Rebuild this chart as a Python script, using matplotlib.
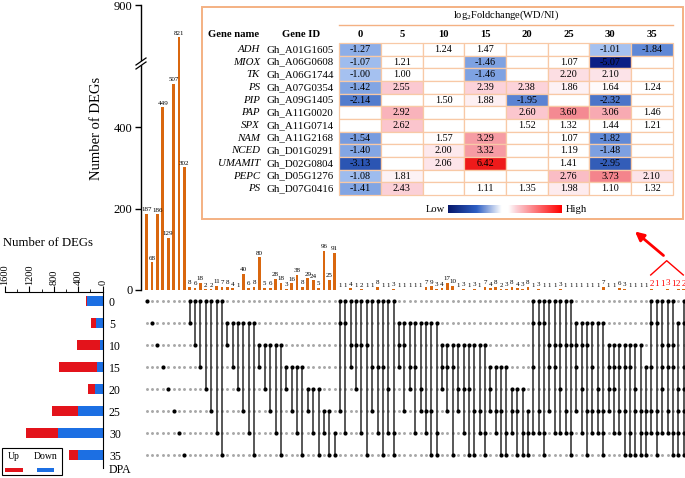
import numpy as np
import matplotlib
matplotlib.use("Agg")
import matplotlib.pyplot as plt
from matplotlib.patches import Rectangle, Polygon
from matplotlib.colors import LinearSegmentedColormap

plt.rcParams['font.family'] = ['Liberation Serif', 'DejaVu Serif']
plt.rcParams['mathtext.fontset'] = 'custom'
plt.rcParams['mathtext.rm'] = 'Liberation Serif'
plt.rcParams['mathtext.it'] = 'Liberation Serif:italic'

W, H = 685, 478

# ---------------- data ----------------
stages = ["0", "5", "10", "15", "20", "25", "30", "35"]
up_degs = [27, 72, 375, 628, 111, 430, 522, 144]
down_degs = [254, 116, 50, 89, 127, 397, 734, 408]

# stage index: 0->0, 1->5, 2->10, 3->15, 4->20, 5->25, 6->30, 7->35
single_sets = [(0,), (1,), (2,), (3,), (4,), (5,), (6,), (7,)]
single_counts = [187, 68, 186, 449, 129, 507, 821, 302]

pair_sets = [(0, 1), (0, 2), (0, 3), (0, 4), (0, 5), (0, 6), (0, 7),
             (1, 2), (1, 3), (1, 4), (1, 5), (1, 6), (1, 7),
             (2, 3), (2, 4), (2, 5), (2, 6), (2, 7),
             (3, 4), (3, 5), (3, 6), (3, 7),
             (4, 5), (4, 6), (4, 7),
             (5, 6), (5, 7),
             (6, 7)]
pair_counts = [8, 6, 18, 2, 2, 11, 7, 8, 4, 1, 40, 6, 8, 80, 5, 6, 28, 18,
               3, 16, 38, 8, 29, 24, 5, 96, 25, 91]

triple_sets = [(0, 1, 5), (0, 1, 6), (0, 2, 3), (0, 2, 4), (0, 2, 6), (0, 2, 7),
               (0, 3, 5), (0, 3, 6), (0, 3, 7), (0, 4, 6), (0, 6, 7),
               (1, 2, 3), (1, 2, 5), (1, 3, 4), (1, 3, 6), (1, 4, 5), (1, 5, 6),
               (1, 5, 7), (1, 6, 7),
               (2, 3, 4), (2, 3, 5), (2, 3, 7), (2, 4, 5), (2, 4, 6), (2, 4, 7),
               (2, 5, 7), (2, 5, 6), (2, 6, 7),
               (3, 4, 5), (3, 5, 6), (3, 5, 7), (3, 6, 7),
               (4, 5, 6), (4, 5, 7), (4, 6, 7),
               (5, 6, 7)]
triple_counts = [1, 1, 4, 1, 2, 1, 1, 8, 1, 1, 3,
                 1, 1, 1, 1, 1, 7, 9, 3,
                 4, 17, 10, 1, 3, 1, 3, 1, 7,
                 4, 8, 2, 3,
                 8, 4, 3,
                 8]

quad_sets = [(0, 1, 3, 6), (0, 1, 5, 6), (0, 1, 6, 7),
             (0, 2, 3, 5), (0, 2, 3, 6), (0, 2, 4, 6), (0, 2, 5, 6), (0, 2, 6, 7),
             (1, 2, 3, 5), (1, 2, 4, 6), (1, 2, 5, 7), (1, 3, 5, 6), (1, 4, 5, 6),
             (1, 5, 6, 7),
             (2, 3, 4, 5), (2, 3, 4, 6), (2, 3, 5, 6), (2, 3, 5, 7), (2, 3, 6, 7),
             (2, 4, 5, 7), (2, 5, 6, 7),
             (3, 5, 6, 7)]
quad_counts = [1, 3, 1, 1, 1, 3, 1, 1, 1, 1, 1, 1, 1, 7, 1, 1, 6, 3, 1, 1, 1, 1]

multi_sets = [(0, 1, 3, 5, 6), (0, 1, 5, 6, 7), (0, 2, 3, 4, 6), (0, 2, 3, 5, 6),
              (0, 2, 3, 6, 7), (1, 4, 5, 6, 7), (0, 1, 3, 4, 5, 6, 7)]
multi_counts = [2, 1, 1, 3, 1, 2, 2]

gene_names = ["ADH", "MIOX", "TK", "PS", "PIP", "PAP", "SPX", "NAM", "NCED",
              "UMAMIT", "PEPC", "PS"]
gene_ids = ["Gh_A01G1605", "Gh_A06G0608", "Gh_A06G1744", "Gh_A07G0354",
            "Gh_A09G1405", "Gh_A11G0020", "Gh_A11G0714", "Gh_A11G2168",
            "Gh_D01G0291", "Gh_D02G0804", "Gh_D05G1276", "Gh_D07G0416"]
nan = np.nan
log2fc = [
    [-1.27, nan, 1.24, 1.47, nan, nan, -1.01, -1.84],
    [-1.07, 1.21, nan, -1.46, nan, 1.07, -5.07, nan],
    [-1.00, 1.00, nan, -1.46, nan, 2.20, 2.10, nan],
    [-1.42, 2.55, nan, 2.39, 2.38, 1.86, 1.64, 1.24],
    [-2.14, nan, 1.50, 1.88, -1.95, nan, -2.32, nan],
    [nan, 2.92, nan, nan, 2.60, 3.60, 3.06, 1.46],
    [nan, 2.62, nan, nan, 1.52, 1.32, 1.44, 1.21],
    [-1.54, nan, 1.57, 3.29, nan, 1.07, -1.82, nan],
    [-1.40, nan, 2.00, 3.32, nan, 1.19, -1.48, nan],
    [-3.13, nan, 2.06, 6.42, nan, 1.41, -2.95, nan],
    [-1.08, 1.81, nan, nan, nan, 2.76, 3.73, 2.10],
    [-1.41, 2.43, nan, 1.11, 1.35, 1.98, 1.10, 1.32],
]

# ---------------- layout helpers ----------------
def px(x0, y0, x1, y1):
    return [x0 / W, 1 - y1 / H, (x1 - x0) / W, (y1 - y0) / H]

combos = single_sets + pair_sets + triple_sets + quad_sets + multi_sets
counts = single_counts + pair_counts + triple_counts + quad_counts + multi_counts
n = len(combos)
xs = np.arange(n)
n_hi = len(multi_sets)

BAR_C = '#D9670F'
XL = (-1.06, 100.24)

fig = plt.figure(figsize=(W / 100, H / 100), dpi=100)

# ---------------- intersection bars ----------------
ax = fig.add_axes(px(141, 5.3, 685, 290))

def fwd(v):
    v = np.asarray(v, dtype=float)
    return np.where(v <= 560, v, np.where(v >= 760, v - 200, 560.0))

def inv(t):
    t = np.asarray(t, dtype=float)
    return np.where(t <= 560, t, t + 200)

ax.set_yscale('function', functions=(fwd, inv))
ax.bar(xs, counts, width=0.5, color=BAR_C, linewidth=0)
for i, (x, c) in enumerate(zip(xs, counts)):
    hi = i >= n - n_hi
    ax.annotate(str(c), (x, c), xytext=(0, 1.2), textcoords='offset points',
                ha='center', va='bottom', fontsize=6.5 if hi else 5.0,
                color='red' if hi else 'black')
ax.set_xlim(XL)
ax.set_ylim(0, 900)
ax.set_yticks([0, 200, 400, 900])
ax.set_yticklabels(['0', '200', '400', '900'])
ax.yaxis.set_minor_locator(matplotlib.ticker.NullLocator())
ax.set_xticks([])
for s in ['top', 'right', 'bottom']:
    ax.spines[s].set_visible(False)
ax.spines['left'].set_linewidth(1.0)
ax.tick_params(axis='y', length=4, width=1, labelsize=9, pad=2)
ax.patch.set_alpha(0)

# ---------------- matrix ----------------
axm = fig.add_axes(px(141, 290, 685, 466))
axm.set_xlim(XL)
axm.set_ylim(7.5, -0.5)
axm.axis('off')
gx, gy = np.meshgrid(xs, np.arange(len(stages)))
axm.scatter(gx.ravel(), gy.ravel(), s=4.5, color='#a8a8a8', linewidths=0, zorder=1)
for x, combo in zip(xs, combos):
    if len(combo) > 1:
        axm.plot([x, x], [min(combo), max(combo)], color='#2a2a2a', lw=1.1,
                 zorder=2, solid_capstyle='butt')
    axm.scatter([x] * len(combo), combo, s=9, color='black', linewidths=0, zorder=3)

# ---------------- set size bars ----------------
axl = fig.add_axes(px(5, 292, 102.7, 468))
rows = np.arange(len(stages))
axl.barh(rows, down_degs, height=0.42, color='#1C6FE3', linewidth=0)
axl.barh(rows, up_degs, left=down_degs, height=0.42, color='#E3131B', linewidth=0)
axl.set_xlim(1600, 0)
axl.set_ylim(7.59, -0.41)
axl.spines['left'].set_visible(False)
axl.spines['bottom'].set_visible(False)
axl.xaxis.tick_top()
axl.set_xticks([1600, 1200, 800, 400, 0])
axl.set_xticklabels(['1600', '1200', '800', '400', '0'], rotation=90)
axl.set_xticks(np.arange(0, 1601, 200), minor=True)
axl.tick_params(axis='x', which='major', length=4, labelsize=7.5, pad=1)
axl.tick_params(axis='x', which='minor', length=2.5)
axl.yaxis.tick_right()
axl.set_yticks(rows)
axl.set_yticklabels(stages)
axl.tick_params(axis='y', length=0, pad=4.5, labelsize=8.5)
axl.patch.set_alpha(0)

# ---------------- overlay (texts, table, legend, arrows) ----------------
ov = fig.add_axes([0, 0, 1, 1])
ov.axis('off')
ov.patch.set_alpha(0)

ov.text(97, 128, 'Number of DEGs', rotation=90, ha='center', va='center', fontsize=10.5)
ov.text(3, 243, 'Number of DEGs', ha='left', va='center', fontsize=9.2)
ov.text(108.5, 470, 'DPA', ha='left', va='center', fontsize=8.5)

# axis break marks
ov.add_patch(Polygon([[136, 65], [146, 58], [146, 62], [136, 69]], closed=True,
                     facecolor='white', edgecolor='none', zorder=5))
ov.plot([136, 146], [65, 58], color='black', lw=0.9, zorder=6)
ov.plot([136, 146], [69, 62], color='black', lw=0.9, zorder=6)

# legend
ov.add_patch(Rectangle((2, 448), 60, 27, facecolor='white', edgecolor='black', lw=0.8))
ov.text(14, 456.5, 'Up', ha='center', va='center', fontsize=7)
ov.text(45.5, 456.5, 'Down', ha='center', va='center', fontsize=7)
ov.add_patch(Rectangle((5, 467.5), 18, 4.5, facecolor='#E3131B', edgecolor='none'))
ov.add_patch(Rectangle((37, 467.5), 17, 4.5, facecolor='#1C6FE3', edgecolor='none'))

# red highlight marks
ov.plot([650.7, 666.7, 683.3], [275, 260.7, 275], color='red', lw=1.0)
ov.annotate('', xy=(635, 231.5), xytext=(663.5, 255.5),
            arrowprops=dict(arrowstyle='-|>', color='red', lw=2.0, mutation_scale=13,
                            shrinkA=0, shrinkB=0))

# table
TBL_EDGE = '#F4B183'
CELL_EDGE = '#F8C9A6'
ov.add_patch(Rectangle((202, 7), 481, 212, facecolor='white', edgecolor=TBL_EDGE,
                       lw=1.4, zorder=1))
vals = np.array(log2fc, dtype=float)
vneg = np.nanmin(vals)
vpos = np.nanmax(vals)
neg_cmap = LinearSegmentedColormap.from_list(
    'neg', [(0, '#ffffff'), (0.2, '#a3c0f0'), (0.36, '#5f88d6'), (0.62, '#2b55b3'),
            (1, '#0b1f85')])
pos_cmap = LinearSegmentedColormap.from_list(
    'pos', [(0, '#ffffff'), (0.08, '#fdeff2'), (0.22, '#fbc7cf'), (0.43, '#f48991'),
            (1, '#ee1a1a')])

def cell_color(v):
    if np.isnan(v):
        return 'white'
    if v < 0:
        return neg_cmap(min(v / vneg, 1.0))
    t = (v - 1.5) / (vpos - 1.5)
    return pos_cmap(float(np.clip(t, 0, 1)))

x0c, cw = 339.3, 41.67
y0c, ch = 43.0, 12.67
ov.text((x0c + x0c + 8 * cw) / 2, 15, r'log$_2$Foldchange(WD/NI)', ha='center',
        va='center', fontsize=7.6, zorder=3)
ov.plot([x0c, x0c + 8 * cw], [25, 25], color=TBL_EDGE, lw=1.0, zorder=3)
ov.text(234, 34.5, 'Gene name', ha='center', va='center', fontsize=7.7,
        fontweight='bold', zorder=3)
ov.text(301, 34.5, 'Gene ID', ha='center', va='center', fontsize=7.7,
        fontweight='bold', zorder=3)
for j, s in enumerate(stages):
    ov.text(x0c + (j + 0.5) * cw, 34.5, s, ha='center', va='center', fontsize=7.7,
            fontweight='bold', zorder=3)
for i in range(len(gene_names)):
    yc = y0c + (i + 0.5) * ch
    ov.text(260, yc, gene_names[i], ha='right', va='center', fontsize=7.8,
            style='italic', zorder=3)
    ov.text(267, yc, gene_ids[i], ha='left', va='center', fontsize=7.8, zorder=3)
    for j in range(len(stages)):
        v = vals[i, j]
        ov.add_patch(Rectangle((x0c + j * cw, y0c + i * ch), cw, ch,
                               facecolor=cell_color(v), edgecolor=CELL_EDGE, lw=0.9,
                               zorder=2))
        if not np.isnan(v):
            ov.text(x0c + (j + 0.5) * cw, yc, f'{v:.2f}', ha='center', va='center',
                    fontsize=7.3, zorder=3)

bar_cmap = LinearSegmentedColormap.from_list(
    'bar', [(0, '#07186b'), (0.25, '#2e5fc4'), (0.47, '#ffffff'), (0.53, '#ffffff'),
            (0.6, '#fbd0d6'), (1, '#ff0000')])
grad = np.linspace(0, 1, 256).reshape(1, -1)
ov.imshow(grad, extent=(448, 562, 213.3, 205.7), aspect='auto', cmap=bar_cmap,
          zorder=3, interpolation='bilinear')
ov.text(445, 209.5, 'Low', ha='right', va='center', fontsize=7.6, zorder=3)
ov.text(566, 209.5, 'High', ha='left', va='center', fontsize=7.6, zorder=3)

ov.set_xlim(0, W)
ov.set_ylim(H, 0)

fig.savefig('out.png', dpi=100)
